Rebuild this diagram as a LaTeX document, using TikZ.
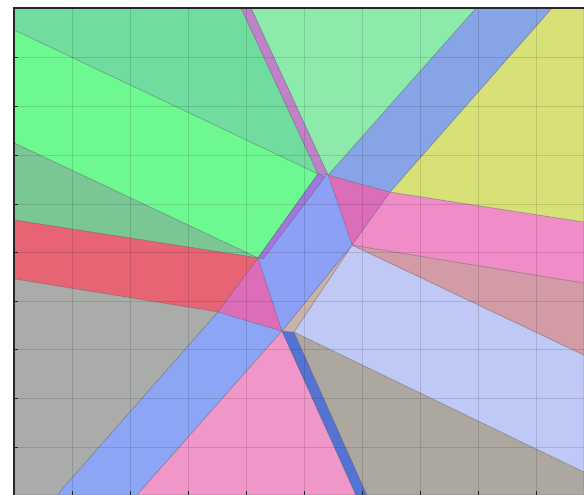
\documentclass[tikz,border=0pt]{standalone}
\usepackage{tikz}
\definecolor{topgreen}{HTML}{70DC9E}
\definecolor{brightgreen}{HTML}{6EF891}
\definecolor{midgreen}{HTML}{7AC795}
\definecolor{lightgreen}{HTML}{8CEBAA}
\definecolor{cellred}{HTML}{E66473}
\definecolor{cellgray}{HTML}{A9ACA8}
\definecolor{taupe}{HTML}{ACA8A0}
\definecolor{lowblue}{HTML}{8CA6F5}
\definecolor{upblue}{HTML}{87A5E6}
\definecolor{midblue}{HTML}{8CA0F5}
\definecolor{darkstrip}{HTML}{5573D2}
\definecolor{lavender}{HTML}{C0C8F5}
\definecolor{rose}{HTML}{D29BA5}
\definecolor{cellpink}{HTML}{F096C8}
\definecolor{uppink}{HTML}{F08CC8}
\definecolor{cellmagenta}{HTML}{DC6EB9}
\definecolor{cellyellow}{HTML}{D7E178}
\definecolor{stripviolet}{HTML}{BE82C8}
\definecolor{edgeviolet}{HTML}{A078DC}
\definecolor{tanstrip}{HTML}{C8B4AA}
\tikzset{
  cell/.style     = {draw=black!70, draw opacity=0.35, line width=0.6pt, line join=round},
  gridline/.style = {black, opacity=0.12, line width=0.8pt},
  frameline/.style= {black!85, line width=1.5pt},
  tickmark/.style = {black!85, line width=0.8pt},
}

\begin{document}
\begin{tikzpicture}[x=1pt,y=-1pt]
  \useasboundingbox (0,0) rectangle (584,495);
  % outer points
  \coordinate (L1) at (14,30);  \coordinate (L2) at (14,143);
  \coordinate (L3) at (14,220); \coordinate (L4) at (14,279);
  \coordinate (T1) at (241,8);  \coordinate (T2) at (251,8);
  \coordinate (T3) at (476,8);  \coordinate (T4) at (552,8);
  \coordinate (R1) at (584,222); \coordinate (R2) at (584,283);
  \coordinate (R3) at (584,355); \coordinate (R4) at (584,472);
  \coordinate (W1) at (57,495);  \coordinate (W2) at (137,495);
  \coordinate (W3) at (356,495); \coordinate (W4) at (367,495);
  % inner vertices
  \coordinate (P) at (318,174);  \coordinate (Q) at (328,175);
  \coordinate (F) at (390,192);  \coordinate (C) at (352,245);
  \coordinate (B) at (258,258);  \coordinate (E) at (218,312);
  \coordinate (D) at (282,331);  \coordinate (D2) at (294,332);
  % cells
  \filldraw[cell, fill=topgreen] (14,8) -- (T1) -- (P) -- (L1) -- cycle;
  \filldraw[cell, fill=brightgreen] (L1) -- (P) -- (B) -- (L2) -- cycle;
  \filldraw[cell, fill=midgreen] (L2) -- (B) -- (L3) -- cycle;
  \filldraw[cell, fill=cellred] (L3) -- (B) -- (E) -- (L4) -- cycle;
  \filldraw[cell, fill=cellgray] (L4) -- (E) -- (W1) -- (14,495) -- cycle;
  \filldraw[cell, fill=lowblue] (E) -- (D) -- (W2) -- (W1) -- cycle;
  \filldraw[cell, fill=cellmagenta] (B) -- (D) -- (E) -- cycle;
  \filldraw[cell, fill=cellpink] (D) -- (W3) -- (W2) -- cycle;
  \filldraw[cell, fill=darkstrip] (D) -- (D2) -- (W4) -- (W3) -- cycle;
  \filldraw[cell, fill=taupe] (D2) -- (R4) -- (584,495) -- (W4) -- cycle;
  \filldraw[cell, fill=lavender] (C) -- (R3) -- (R4) -- (D2) -- cycle;
  \filldraw[cell, fill=tanstrip] (D) -- (C) -- (D2) -- cycle;
  \filldraw[cell, fill=rose] (C) -- (R2) -- (R3) -- cycle;
  \filldraw[cell, fill=uppink] (F) -- (R1) -- (R2) -- (C) -- cycle;
  \filldraw[cell, fill=cellmagenta] (Q) -- (F) -- (C) -- cycle;
  \filldraw[cell, fill=cellyellow] (F) -- (T4) -- (584,8) -- (R1) -- cycle;
  \filldraw[cell, fill=upblue] (Q) -- (T3) -- (T4) -- (F) -- cycle;
  \filldraw[cell, fill=lightgreen] (T2) -- (T3) -- (Q) -- cycle;
  \filldraw[cell, fill=stripviolet] (T1) -- (T2) -- (Q) -- (P) -- cycle;
  \filldraw[cell, fill=midblue] (P) -- (Q) -- (C) -- (D) -- (B) -- cycle;
  \filldraw[cell, fill=edgeviolet] (P) -- (325,177) -- (263,259) -- (B) -- cycle;
  % grid
  \foreach \x in {72,130,188,246,304,362,420,478,536}
    \draw[gridline] (\x,8) -- (\x,495);
  \foreach \y in {57,106,155,204,252,301,349,398,447}
    \draw[gridline] (14,\y) -- (584,\y);
  % frame and ticks
  \draw[frameline] (14,495) -- (14,8) -- (584,8);
  \foreach \y in {57,106,155,204,252,301,349,398,447}
    \draw[tickmark] (14,\y) -- ++(4,0);
  \foreach \x in {72,130,188,246,304,362,420,478,536}
    \draw[tickmark] (\x,495) -- ++(0,-4);
\end{tikzpicture}
\end{document}
